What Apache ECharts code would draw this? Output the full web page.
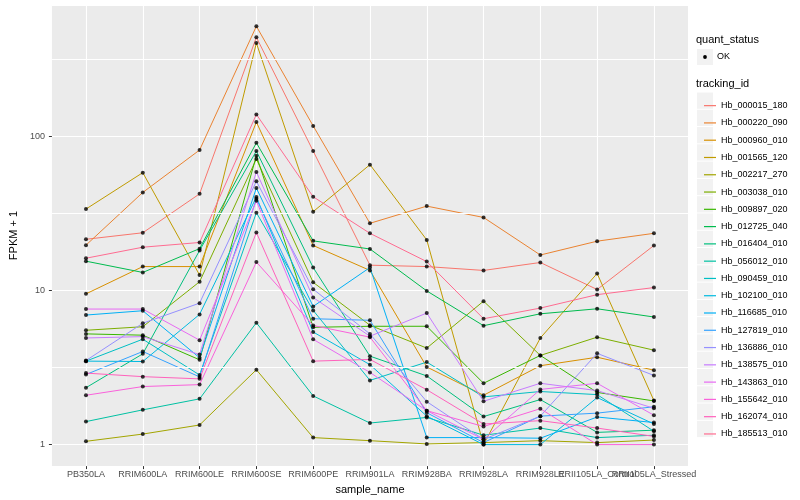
<!DOCTYPE html>
<html><head><meta charset="utf-8">
<script src="https://cdn.jsdelivr.net/npm/echarts@6/dist/echarts.min.js"></script>
<style>html,body{margin:0;padding:0;background:#fff}#c{width:800px;height:500px}</style>
</head><body><div id="c"></div>
<script>
const categories = ['PB350LA','RRIM600LA','RRIM600LE','RRIM600SE','RRIM600PE','RRIM901LA','RRIM928BA','RRIM928LA','RRIM928LE','RRII105LA_Control','RRII105LA_Stressed'];
const trackingIds = ['Hb_000015_180','Hb_000220_090','Hb_000960_010','Hb_001565_120','Hb_002217_270','Hb_003038_010','Hb_009897_020','Hb_012725_040','Hb_016404_010','Hb_056012_010','Hb_090459_010','Hb_102100_010','Hb_116685_010','Hb_127819_010','Hb_136886_010','Hb_138575_010','Hb_143863_010','Hb_155642_010','Hb_162074_010','Hb_185513_010'];
const colors = ['#F8766D','#EA8331','#D89000','#C09B00','#A3A500','#7CAE00','#39B600','#00BB4E','#00BF7D','#00C1A3','#00BFC4','#00BAE0','#00B0F6','#35A2FF','#9590FF','#C77CFF','#E76BF3','#FA62DB','#FF62BC','#FF6C91'];
const yTickLabels = [1, 10, 100];
const yMinorExponents = [0.5, 1.5, 2.5];

const hb000015 = [21.5, 23.7, 42.4, 440, 80.4, 14.6, 14.3, 13.5, 15.2, 10.15, 19.6];
const hb000220 = [19.7, 43.3, 81.6, 519, 117, 27.3, 35.3, 29.8, 17.0, 20.9, 23.5];
const hb000960 = [9.51, 14.3, 14.3, 124, 19.6, 13.5, 3.19, 2.09, 3.25, 3.69, 3.04];
const hb001565 = [33.8, 58.2, 12.6, 404, 32.5, 65.6, 21.3, 1.0, 4.92, 12.9, 1.93];
const hb002217 = [1.05, 1.17, 1.34, 3.06, 1.11, 1.06, 1.01, 1.03, 1.06, 1.03, 1.07];
const hb003038 = [5.52, 5.82, 11.4, 71.4, 11.3, 5.95, 4.23, 8.53, 3.79, 4.98, 4.10];
const hb009897 = [5.23, 5.13, 3.55, 75.0, 5.77, 5.86, 5.86, 2.50, 3.79, 2.18, 1.92];
const hb012725 = [15.5, 13.1, 18.7, 90.9, 21.0, 18.6, 9.94, 5.91, 7.06, 7.61, 6.73];
const hb016404 = [2.34, 3.88, 18.2, 80.4, 14.1, 3.75, 2.79, 1.52, 1.96, 1.20, 1.24];
const hb056012 = [1.41, 1.68, 1.98, 6.18, 2.07, 1.38, 1.50, 1.15, 1.28, 1.11, 1.15];
const hb090459 = [3.48, 4.83, 2.83, 32.0, 7.43, 2.61, 3.43, 2.04, 2.21, 2.11, 1.22];
const hb102100 = [3.48, 3.46, 7.00, 40.4, 5.38, 3.30, 1.53, 1.0, 1.0, 2.02, 1.36];
const hb116685 = [6.93, 7.39, 3.66, 46.2, 7.88, 14.1, 1.11, 1.11, 1.10, 1.51, 1.39];
const hb127819 = [2.85, 4.02, 2.75, 39.4, 6.56, 6.41, 1.61, 1.03, 1.53, 1.60, 1.76];
const hb136886 = [3.51, 6.13, 8.28, 51.2, 10.2, 5.23, 1.90, 1.08, 1.53, 3.91, 2.81];
const hb138575 = [4.92, 5.02, 3.84, 58.8, 9.01, 5.05, 7.14, 1.91, 2.50, 2.24, 1.72];
const hb143863 = [7.58, 7.58, 4.76, 38.2, 4.82, 2.94, 1.66, 1.08, 2.28, 2.50, 1.55];
const hb155642 = [2.09, 2.38, 2.45, 15.3, 5.93, 4.98, 1.66, 1.31, 1.71, 1.0, 1.0];
const hb162074 = [2.91, 2.76, 2.67, 23.8, 3.48, 3.57, 2.27, 1.36, 1.43, 1.28, 1.13];
const hb185513 = [16.2, 19.1, 20.5, 139, 40.6, 23.5, 15.4, 6.56, 7.69, 9.40, 10.45];

const seriesValues = [hb000015, hb000220, hb000960, hb001565, hb002217, hb003038, hb009897, hb012725, hb016404, hb056012, hb090459, hb102100, hb116685, hb127819, hb136886, hb138575, hb143863, hb155642, hb162074, hb185513];

const FONT = 'Liberation Sans, Arial, Helvetica, sans-serif';
const Y_MIN = 0.725, Y_MAX = 713;
const chart = echarts.init(document.getElementById('c'), null, {renderer: 'canvas'});

const lineSeries = trackingIds.map((id, i) => ({
  name: id, type: 'line', symbol: 'none', silent: true, z: 2,
  data: seriesValues[i].map((v, j) => [j, v]),
  lineStyle: {width: 1, color: colors[i]},
  itemStyle: {color: colors[i]}
}));
const points = [];
seriesValues.forEach(arr => arr.forEach((v, j) => points.push([j, v])));

const evenIdx = categories.map((c, i) => i).filter(i => i % 2 === 0);
const oddIdx = categories.map((c, i) => i).filter(i => i % 2 === 1);
const legendTop = 92;
const rowH = 17.28;
const graphics = [
  {type: 'text', left: 696, top: 34, style: {text: 'quant_status', font: '11px ' + FONT, fill: '#000'}},
  {type: 'rect', shape: {x: 697, y: 49, width: 16, height: 16}, style: {fill: '#F2F2F2'}, z: 1},
  {type: 'circle', shape: {cx: 705, cy: 57, r: 1.9}, style: {fill: '#000'}, z: 5},
  {type: 'text', left: 717, top: 52, style: {text: 'OK', font: '9px ' + FONT, fill: '#000'}},
  {type: 'text', left: 696, top: 78, style: {text: 'tracking_id', font: '11px ' + FONT, fill: '#000'}}
];
trackingIds.forEach((id, i) => {
  graphics.push({type: 'rect', shape: {x: 697, y: legendTop + i * rowH + 0.5, width: 16, height: rowH - 1}, style: {fill: '#F2F2F2'}, z: 1});
});

function xAxisDef(idx, withName) {
  return {
    type: 'value', min: -0.6, max: 10.6, position: 'bottom',
    axisLine: {show: false, onZero: false},
    axisTick: {show: true, customValues: idx, length: 3, lineStyle: {color: '#333333', width: 1}},
    axisLabel: {customValues: idx, showMinLabel: true, showMaxLabel: true, hideOverlap: false,
      formatter: v => categories[Math.round(v)], color: '#4D4D4D', fontSize: 9, margin: 4, fontFamily: FONT},
    splitLine: {show: true, lineStyle: {color: '#FFFFFF', width: 1.1}},
    name: withName ? 'sample_name' : '', nameLocation: 'middle', nameGap: 14,
    nameTextStyle: {fontSize: 11, color: '#000', fontFamily: FONT}
  };
}

chart.setOption({
  animation: false,
  backgroundColor: '#fff',
  textStyle: {fontFamily: FONT},
  grid: {left: 40, right: 112, top: 5, bottom: 31, show: true, backgroundColor: '#EBEBEB', borderWidth: 0},
  xAxis: [xAxisDef(evenIdx, true), xAxisDef(oddIdx, false)],
  yAxis: [
    {
      type: 'log', logBase: 10, min: Y_MIN, max: Y_MAX, position: 'left',
      axisLine: {show: false, onZero: false},
      axisTick: {show: true, length: 3, lineStyle: {color: '#333333', width: 1}},
      axisLabel: {color: '#4D4D4D', fontSize: 9, margin: 7, showMinLabel: false, showMaxLabel: false, fontFamily: FONT,
        formatter: v => (yTickLabels.indexOf(Math.round(v)) >= 0 ? String(Math.round(v)) : '')},
      splitLine: {show: true, lineStyle: {color: '#FFFFFF', width: 1.1}},
      name: 'FPKM + 1', nameLocation: 'middle', nameGap: 24, nameRotate: 90,
      nameTextStyle: {fontSize: 11, color: '#000', fontFamily: FONT}
    },
    {
      type: 'value', min: Math.log10(Y_MIN), max: Math.log10(Y_MAX), position: 'left', z: 1,
      axisLine: {show: false, onZero: false},
      axisTick: {show: true, customValues: yMinorExponents, length: 1, lineStyle: {color: 'rgba(0,0,0,0)'}},
      axisLabel: {show: true, customValues: yMinorExponents, formatter: v => 'm', color: 'rgba(0,0,0,0)', fontSize: 9,
        showMinLabel: true, showMaxLabel: true, hideOverlap: false},
      splitLine: {show: true, lineStyle: {color: '#FFFFFF', width: 1}}
    }
  ],
  legend: {
    data: trackingIds, orient: 'vertical', left: 699, top: legendTop,
    icon: 'rect', itemWidth: 12, itemHeight: 1.2, itemGap: 0, selectedMode: false,
    textStyle: {fontSize: 9, color: '#000', fontFamily: FONT, lineHeight: rowH}
  },
  graphic: graphics,
  series: [
    {type: 'line', name: 'minor-grid', yAxisIndex: 1, data: [[0, 0.5], [10, 0.5]], symbol: 'none', z: 1, silent: true,
      lineStyle: {opacity: 0}, itemStyle: {opacity: 0},
      markLine: {silent: true, symbol: ['none', 'none'], label: {show: false}, animation: false,
        lineStyle: {color: '#FFFFFF', width: 1, type: 'solid', opacity: 1},
        data: yMinorExponents.map(v => ({yAxis: v}))}},
    ...lineSeries,
    {type: 'scatter', name: 'points', data: points, symbol: 'circle', symbolSize: 4, itemStyle: {color: '#000'}, z: 5, silent: true}
  ]
});
</script></body></html>
